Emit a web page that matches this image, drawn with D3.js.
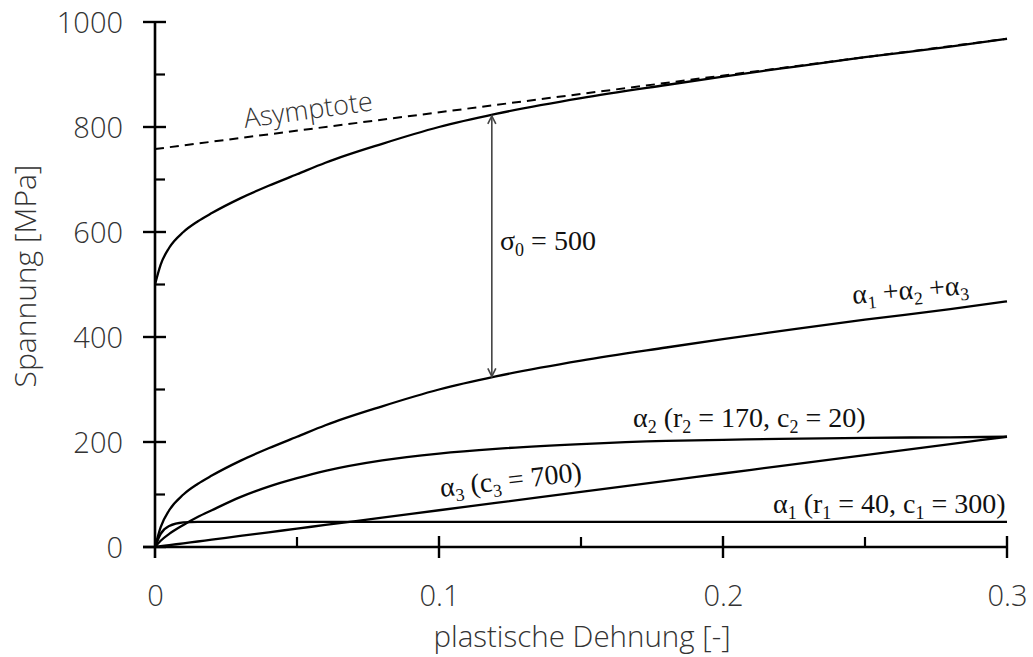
<!DOCTYPE html>
<html>
<head>
<meta charset="utf-8">
<script src="https://cdn.jsdelivr.net/npm/d3@7"></script>
<style>
  html, body { margin: 0; padding: 0; background: #fff; }
  svg { display: block; }
  .sans { font-family: "Open Sans", "DejaVu Sans", sans-serif; font-weight: 300; fill: #333; }
  .serif { font-family: "Liberation Serif", "DejaVu Serif", serif; fill: #111; }
</style>
</head>
<body>
<svg id="chart" width="1033" height="657"></svg>
<script>
// Plastic strain sample points shared by the hardening curves
const strain = [0, 0.002, 0.005, 0.01, 0.015, 0.02, 0.03, 0.04, 0.05, 0.06, 0.08, 0.1, 0.12, 0.15, 0.18, 0.2, 0.22, 0.25, 0.28, 0.3];

// Back-stress components [MPa]
const alpha1 = [0, 25, 40, 47, 48, 48, 48, 48, 48, 48, 48, 48, 48, 48, 48, 48, 48, 48, 48, 48];
const alpha2 = [0, 12, 25, 42, 57, 70, 95, 115, 131, 145, 165, 178, 187, 196, 202, 204, 206, 208, 209, 210];
const alpha3 = [0, 1.4, 3.5, 7, 10.5, 14, 21, 28, 35, 42, 56, 70, 84, 105, 126, 140, 154, 175, 196, 210];
const alphaSum = [0, 38, 70, 100, 120, 136, 164, 188, 210, 232, 268, 300, 325, 355, 380, 396, 411, 433, 453, 468];

// Total flow stress (yield stress + back stresses) [MPa]
const totalStress = [500, 538, 570, 600, 620, 636, 664, 688, 710, 732, 768, 800, 825, 855, 880, 896, 911, 933, 953, 968];

// Linear asymptote of the total stress
const asymptoteStrain = [0, 0.3];
const asymptoteStress = [758, 968];

// Initial yield stress, shown as the gap between the summed and total curves
const sigma0 = 500;
const sigma0Strain = 0.1186;
const sigma0Base = 323;

// Axis ticks
const xMajorTicks = [0, 0.1, 0.2, 0.3];
const xMinorTicks = [0.05, 0.15, 0.25];
const yMajorTicks = [0, 200, 400, 600, 800, 1000];
const yMinorTicks = [100, 300, 500, 700, 900];

const svg = d3.select("#chart");
const x = d3.scaleLinear().domain([0, 0.3]).range([155, 1007]);
const y = d3.scaleLinear().domain([0, 1000]).range([547, 22]);

// ---- curves ----
const line = d3.line()
  .x(d => x(d[0]))
  .y(d => y(d[1]))
  .curve(d3.curveMonotoneX);

const series = [alpha1, alpha2, alpha3, alphaSum, totalStress];
svg.append("g")
  .selectAll("path")
  .data(series)
  .join("path")
  .attr("d", vals => line(strain.map((s, i) => [s, vals[i]])))
  .attr("fill", "none")
  .attr("stroke", "#000")
  .attr("stroke-width", 2.3)
  .attr("stroke-linejoin", "round");

// asymptote (dashed)
svg.append("path")
  .attr("d", d3.line().x(d => x(d[0])).y(d => y(d[1]))(asymptoteStrain.map((s, i) => [s, asymptoteStress[i]])))
  .attr("fill", "none")
  .attr("stroke", "#000")
  .attr("stroke-width", 2)
  .attr("stroke-dasharray", "9,6");

// ---- axes ----
const axes = svg.append("g").attr("stroke", "#000");
// y axis line (runs down past the origin as the x=0 tick)
axes.append("line")
  .attr("x1", x(0)).attr("x2", x(0))
  .attr("y1", y(1000)).attr("y2", y(0) + 11)
  .attr("stroke-width", 2.6);
axes.append("line")
  .attr("x1", x(0) - 12).attr("x2", x(0.3))
  .attr("y1", y(0)).attr("y2", y(0))
  .attr("stroke-width", 2.6);

axes.selectAll(".ymaj").data(yMajorTicks).join("line")
  .attr("x1", x(0) - 12).attr("x2", x(0) + 11)
  .attr("y1", d => y(d)).attr("y2", d => y(d))
  .attr("stroke-width", 2.4);
axes.selectAll(".ymin").data(yMinorTicks).join("line")
  .attr("x1", x(0)).attr("x2", x(0) + 10)
  .attr("y1", d => y(d)).attr("y2", d => y(d))
  .attr("stroke-width", 2.2);
axes.selectAll(".xmaj").data(xMajorTicks.slice(1)).join("line")
  .attr("x1", d => x(d)).attr("x2", d => x(d))
  .attr("y1", y(0) - 11).attr("y2", y(0) + 11)
  .attr("stroke-width", 2.4);
axes.selectAll(".xmin").data(xMinorTicks).join("line")
  .attr("x1", d => x(d)).attr("x2", d => x(d))
  .attr("y1", y(0) - 10).attr("y2", y(0))
  .attr("stroke-width", 2.2);

// tick labels via d3 axes (tick marks drawn above)
const yAxis = d3.axisLeft(y).tickValues(yMajorTicks).tickSize(0).tickPadding(32).tickFormat(d3.format("d"));
const yG = svg.append("g").attr("transform", `translate(${x(0)},0)`).call(yAxis);
yG.select(".domain").remove();
yG.selectAll("text").attr("class", "sans").attr("font-size", 29).attr("dy", "0.36em");

const xAxis = d3.axisBottom(x).tickValues(xMajorTicks).tickSize(0).tickPadding(59).tickFormat(d => d === 0 ? "0" : d3.format(".1f")(d));
const xG = svg.append("g").attr("transform", `translate(0,${y(0)})`).call(xAxis);
xG.select(".domain").remove();
xG.selectAll("text").attr("class", "sans").attr("font-size", 29).attr("dy", "0");

// axis titles
svg.append("text").attr("class", "sans")
  .attr("font-size", 30)
  .attr("text-anchor", "middle")
  .attr("transform", "translate(36,276) rotate(-90)")
  .text("Spannung [MPa]");
svg.append("text").attr("class", "sans")
  .attr("font-size", 29.5)
  .attr("text-anchor", "middle")
  .attr("x", 582).attr("y", 647)
  .text("plastische Dehnung [-]");

// ---- annotations ----
// σ0 double arrow
const ax = x(sigma0Strain), yTop = y(sigma0Base + sigma0), yBot = y(sigma0Base);
const ann = svg.append("g").attr("stroke", "#444").attr("fill", "none").attr("stroke-width", 1.6);
ann.append("line").attr("x1", ax).attr("x2", ax).attr("y1", yTop + 1).attr("y2", yBot - 1);
ann.append("path").attr("d", `M${ax - 4},${yTop + 9} L${ax},${yTop + 1} L${ax + 4},${yTop + 9}`);
ann.append("path").attr("d", `M${ax - 4},${yBot - 9} L${ax},${yBot - 1} L${ax + 4},${yBot - 9}`);

function subLabel(parts, attrs) {
  const t = svg.append("text").attr("class", "serif").attr("font-size", 28);
  Object.entries(attrs).forEach(([k, v]) => t.attr(k, v));
  parts.forEach(p => {
    const ts = t.append("tspan").text(p.t);
    if (p.sub) ts.attr("font-size", 18).attr("dy", "6");
    if (p.up) ts.attr("dy", "-6");
  });
  return t;
}

subLabel([{t: "σ"}, {t: "0", sub: true}, {t: " = 500", up: true}], {x: 500, y: 250});

subLabel([{t: "α"}, {t: "1", sub: true}, {t: " +α", up: true}, {t: "2", sub: true}, {t: " +α", up: true}, {t: "3", sub: true}],
  {transform: "translate(853,304) rotate(-5)"});

subLabel([{t: "α"}, {t: "2", sub: true}, {t: " (r", up: true}, {t: "2", sub: true}, {t: " = 170, c", up: true}, {t: "2", sub: true}, {t: " = 20)", up: true}],
  {x: 633, y: 427});

subLabel([{t: "α"}, {t: "3", sub: true}, {t: " (c", up: true}, {t: "3", sub: true}, {t: " = 700)", up: true}],
  {transform: "translate(441,497) rotate(-6.5)"});

subLabel([{t: "α"}, {t: "1", sub: true}, {t: " (r", up: true}, {t: "1", sub: true}, {t: " = 40, c", up: true}, {t: "1", sub: true}, {t: " = 300)", up: true}],
  {x: 773, y: 513});

svg.append("text").attr("class", "sans")
  .attr("font-size", 27)
  .attr("transform", "translate(245,128) rotate(-7.9)")
  .text("Asymptote");
</script>
</body>
</html>
